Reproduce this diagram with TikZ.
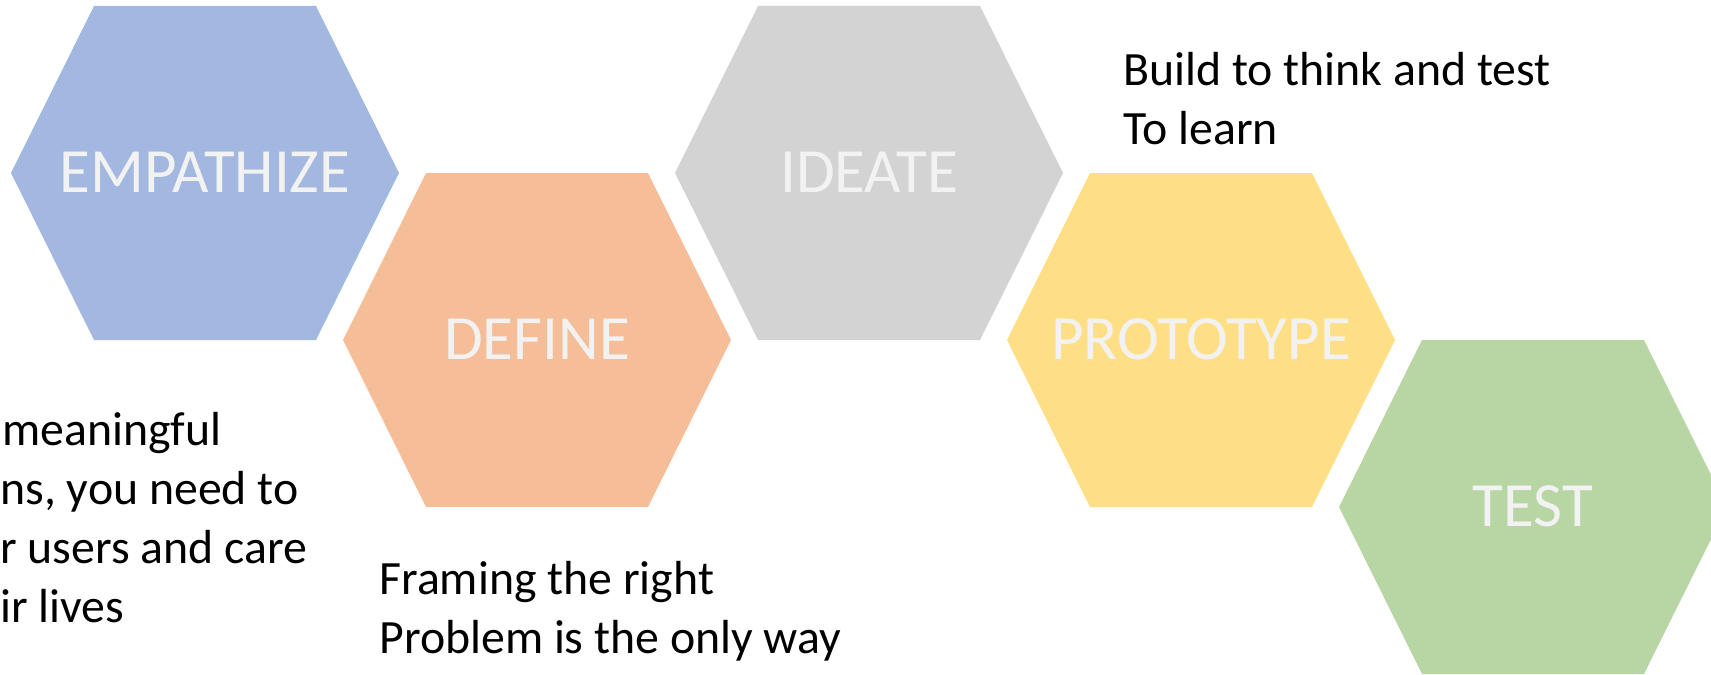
\documentclass[tikz,border=0pt]{standalone}
\usepackage{fontspec}
\setmainfont{Carlito}
\definecolor{empblue}{HTML}{A2B8E0}
\definecolor{deforange}{HTML}{F5BE98}
\definecolor{idegray}{HTML}{D3D3D3}
\definecolor{proyellow}{HTML}{FFDF85}
\definecolor{testgreen}{HTML}{B8D6A4}
\definecolor{lbltext}{HTML}{F2F2F2}
\tikzset{
  hexa/.pic={\path[pic actions] (-194,0) -- (-111,-167) -- (111,-167) -- (194,0) -- (111,167) -- (-111,167) -- cycle;},
  lbl/.style={text=lbltext, inner sep=0pt, anchor=center, font=\fontsize{31.5}{38}\selectfont},
  body/.style={text=black, inner sep=0pt, anchor=base west, font=\fontsize{23.9}{29}\selectfont}
}
\begin{document}
\begin{tikzpicture}[x=0.5pt,y=-0.5pt]
\useasboundingbox (0,0) rectangle (1711,674);
\clip (0,0) rectangle (1711,674);
% hexagons
\pic[fill=empblue] at (205,173) {hexa};
\pic[fill=deforange] at (537,340) {hexa};
\pic[fill=idegray] at (869,173) {hexa};
\pic[fill=proyellow] at (1201,340) {hexa};
\pic[fill=testgreen] at (1533,507) {hexa};
% labels
\node[lbl] (emp) at (205,172) {EMPATHIZE};
\node[lbl] (def) at (537,339) {DEFINE};
\node[lbl] (ide) at (869,172) {IDEATE};
\node[lbl] (pro) at (1201,339) {PROTOTYPE};
\node[lbl] (tst) at (1533,506) {TEST};
% texts
\node[body] (e1) at (2,445.5) {meaningful};
\node[body] (e2) at (0,504.5) {ns, you need to};
\node[body] (e3) at (0,563.5) {r users and care};
\node[body] (e4) at (0,622.5) {ir lives};
\node[body] (d1) at (379,594.5) {Framing the right};
\node[body] (d2) at (379,653.5) {Problem is the only way};
\node[body] (p1) at (1123,86) {Build to think and test};
\node[body] (p2) at (1123,144) {To learn};
\end{tikzpicture}
\end{document}
